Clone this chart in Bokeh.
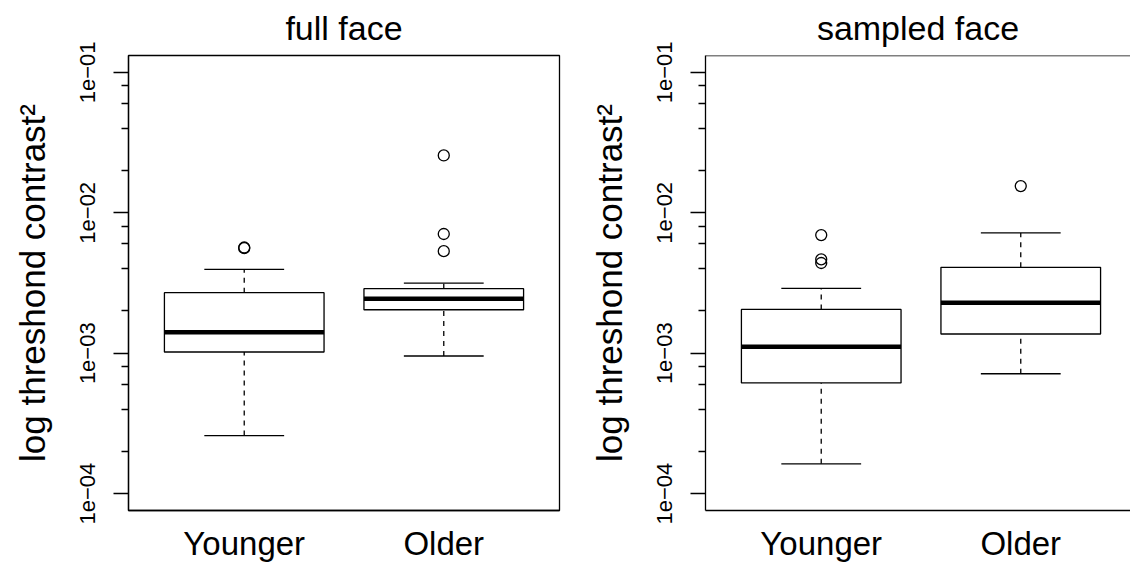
from bokeh.plotting import figure
from bokeh.models import FixedTicker, Range1d, Span, ColumnDataSource
from bokeh.layouts import row
from bokeh.embed import file_html
from bokeh.resources import INLINE

groups = ["Younger", "Older"]
group_pos = [1, 2]

# full face
full_lower = [2.59e-4, 9.55e-4]
full_q1 = [1.02e-3, 2.04e-3]
full_median = [1.41e-3, 2.44e-3]
full_q3 = [2.70e-3, 2.88e-3]
full_upper = [3.95e-3, 3.16e-3]
full_out_group = [1, 1, 2, 2, 2]
full_out_value = [5.60e-3, 5.66e-3, 5.33e-3, 7.06e-3, 2.56e-2]

# sampled face
samp_lower = [1.63e-4, 7.14e-4]
samp_q1 = [6.14e-4, 1.37e-3]
samp_median = [1.11e-3, 2.29e-3]
samp_q3 = [2.05e-3, 4.09e-3]
samp_upper = [2.90e-3, 7.19e-3]
samp_out_group = [1, 1, 1, 2]
samp_out_value = [4.39e-3, 4.66e-3, 6.94e-3, 1.55e-2]

major_ticks = [1e-4, 1e-3, 1e-2, 1e-1]
major_labels = ["1e\u221204", "1e\u221203", "1e\u221202", "1e\u221201"]
minor_ticks = [m * d for d in [1e-4, 1e-3, 1e-2] for m in [2, 4, 6, 8]]

FONT = "Liberation Sans"
LW = 1.3
X_LO, X_HI = 0.42, 2.58
Y_LO, Y_HI = 10 ** -4.12, 10 ** -0.88


def make_panel(title, lower, q1, med, q3, upper, out_g, out_v, width, border_right, x_end, outline):
    p = figure(width=width, height=564, y_axis_type="log",
               x_range=Range1d(X_LO, x_end), y_range=Range1d(Y_LO, Y_HI),
               output_backend="svg", toolbar_location=None,
               min_border_left=128, min_border_right=border_right,
               min_border_top=55, min_border_bottom=53, title=title)
    p.background_fill_color = "white"
    p.border_fill_color = "white"
    p.xgrid.visible = False
    p.ygrid.visible = False
    if outline:
        p.outline_line_color = "black"
        p.outline_line_width = LW
    else:
        p.outline_line_color = None
        p.add_layout(Span(location=Y_HI, dimension="width", line_color="black", line_width=LW))

    p.title.text_font = FONT
    p.title.text_font_size = "34px"
    p.title.text_font_style = "normal"
    p.title.text_color = "black"
    p.title.align = "center"
    p.title.vertical_align = "top"
    p.title.standoff = 14

    src = ColumnDataSource(dict(x=group_pos, lo=lower, q1=q1, med=med, q3=q3, hi=upper,
                                xl=[g - 0.4 for g in group_pos], xr=[g + 0.4 for g in group_pos],
                                cl=[g - 0.2 for g in group_pos], cr=[g + 0.2 for g in group_pos]))
    p.segment(x0="x", x1="x", y0="q3", y1="hi", source=src, line_color="black", line_width=LW, line_dash="5 5")
    p.segment(x0="x", x1="x", y0="lo", y1="q1", source=src, line_color="black", line_width=LW, line_dash="5 5")
    p.segment(x0="cl", x1="cr", y0="hi", y1="hi", source=src, line_color="black", line_width=LW)
    p.segment(x0="cl", x1="cr", y0="lo", y1="lo", source=src, line_color="black", line_width=LW)
    p.vbar(x="x", width=0.8, bottom="q1", top="q3", source=src,
           fill_color="white", line_color="black", line_width=LW)
    p.segment(x0="xl", x1="xr", y0="med", y1="med", source=src, line_color="black",
              line_width=4.5, line_cap="butt")
    p.scatter(x=out_g, y=out_v, marker="circle", size=11, fill_color=None,
              line_color="black", line_width=LW)

    xa = p.xaxis[0]
    xa.ticker = FixedTicker(ticks=group_pos)
    xa.major_label_overrides = {g: n for g, n in zip(group_pos, groups)}
    xa.major_tick_out = 0
    xa.major_tick_in = 0
    xa.minor_tick_out = 0
    xa.minor_tick_in = 0
    xa.axis_line_color = "black"
    xa.axis_line_width = LW
    xa.major_label_text_font = FONT
    xa.major_label_text_font_size = "33px"
    xa.major_label_text_color = "black"
    xa.major_label_standoff = 14

    ya = p.yaxis[0]
    ya.ticker = FixedTicker(ticks=major_ticks, minor_ticks=minor_ticks)
    ya.major_label_overrides = {t: l for t, l in zip(major_ticks, major_labels)}
    ya.major_label_orientation = "vertical"
    ya.major_tick_out = 15
    ya.major_tick_in = 0
    ya.minor_tick_out = 7
    ya.minor_tick_in = 0
    ya.major_tick_line_width = LW
    ya.minor_tick_line_width = LW
    ya.major_tick_line_color = "black"
    ya.minor_tick_line_color = "black"
    ya.axis_line_color = "black"
    ya.axis_line_width = LW
    ya.major_label_text_font = FONT
    ya.major_label_text_font_size = "22px"
    ya.major_label_text_color = "black"
    ya.major_label_standoff = 18
    ya.axis_label = "log threshond contrast\u00b2"
    ya.axis_label_text_font = FONT
    ya.axis_label_text_font_size = "35px"
    ya.axis_label_text_font_style = "normal"
    ya.axis_label_text_color = "black"
    ya.axis_label_standoff = 26
    return p


p1 = make_panel("full face", full_lower, full_q1, full_median, full_q3, full_upper,
                full_out_group, full_out_value, 577, 18, X_HI, True)
p2 = make_panel("sampled face", samp_lower, samp_q1, samp_median, samp_q3, samp_upper,
                samp_out_group, samp_out_value, 553, 0, 2.55, False)

layout = row(p1, p2)
open("out.html", "w").write(file_html(layout, INLINE))
